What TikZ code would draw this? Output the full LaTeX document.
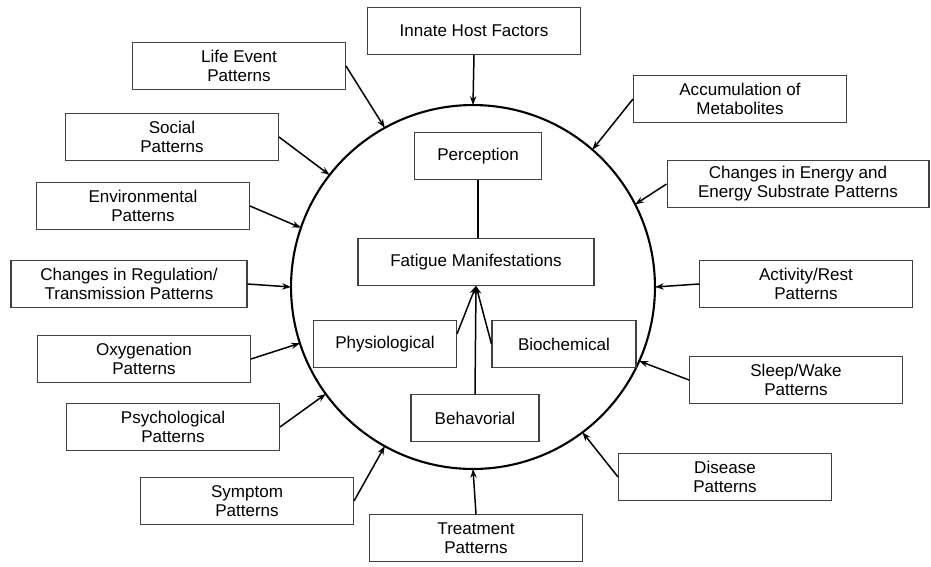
\documentclass[tikz,border=0pt]{standalone}
\usepackage{fontspec}
\setmainfont{Liberation Sans}
\usepackage{tikz}
\usetikzlibrary{arrows.meta}
\usetikzlibrary{shapes,shapes.geometric}

\tikzset{
  factorbox/.style={draw=black!75, line width=0.6pt, align=center, inner sep=2pt,
    minimum width=4.26cm, minimum height=0.93cm},
  corebox/.style={factorbox, minimum width=#1},
  linkarrow/.style={line width=0.85pt, -{Stealth[length=5pt,width=3.6pt]}},
}

\begin{document}
\begin{tikzpicture}[x=0.02cm, y=-0.02cm,
  every node/.style={font=\fontsize{9.7}{10.8}\selectfont}]
			\useasboundingbox (0,0) rectangle (931,566);

			% the big circle
			\node[circle, draw, line width=1.2pt, minimum size=7.28cm, outer sep=0pt] (ring) at (473,287) {};

			% inside the circle
			\node[corebox=2.54cm] (percep) at (478,156) {Perception};
			\node[corebox=4.72cm] (fatigue) at (476,262) {Fatigue Manifestations};
			\node[corebox=2.86cm] (physio) at (385,344) {Physiological};
			\node[corebox=2.88cm] (biochem) at (564,344) {Biochemical};
			\node[corebox=2.56cm] (behav) at (475,418) {Behavorial};

			\draw[line width=0.85pt] (percep.south) -- (percep.south |- fatigue.north);
			\draw[linkarrow] (physio.8) -- (fatigue.south);
			\draw[linkarrow] (biochem.west) -- (fatigue.south);
			\draw[linkarrow] (behav.north) -- (fatigue.south);

			% factors round the circle, left side
			\node[factorbox] (innate) at (474,31) {Innate Host Factors};
			\node[factorbox] (lifeevent) at (239,66) {Life Event\\Patterns};
			\node[factorbox] (social) at (172,137) {Social\\Patterns};
			\node[factorbox] (environ) at (143,206) {Environmental\\Patterns};
			\node[factorbox, minimum width=4.72cm] (regul) at (129,284) {Changes in Regulation/\\Transmission Patterns};
			\node[factorbox] (oxygen) at (144,359) {Oxygenation\\Patterns};
			\node[factorbox] (psycho) at (173,427) {Psychological\\Patterns};
			\node[factorbox] (symptom) at (247,501) {Symptom\\Patterns};
			\node[factorbox] (treat) at (476,538) {Treatment\\Patterns};

			% right side
			\node[factorbox] (accum) at (740,99) {Accumulation of\\Metabolites};
			\node[factorbox, minimum width=5.24cm] (energy) at (798,184) {Changes in Energy and\\Energy Substrate Patterns};
			\node[factorbox] (activity) at (806,284) {Activity/Rest\\Patterns};
			\node[factorbox] (sleep) at (796,380) {Sleep/Wake\\Patterns};
			\node[factorbox] (disease) at (725,477) {Disease\\Patterns};

			\draw[linkarrow] (innate.south) -- (ring.90);
			\draw[linkarrow] (lifeevent.east) -- (ring.119);
			\draw[linkarrow] (social.east) -- (ring.142);
			\draw[linkarrow] (environ.east) -- (ring.161);
			\draw[linkarrow] (regul.east) -- (ring.180);
			\draw[linkarrow] (oxygen.east) -- (ring.198);
			\draw[linkarrow] (psycho.east) -- (ring.216);
			\draw[linkarrow] (symptom.east) -- (ring.241);
			\draw[linkarrow] (treat.north) -- (ring.270);
			\draw[linkarrow] (disease.west) -- (ring.307);
			\draw[linkarrow] (sleep.west) -- (ring.336);
			\draw[linkarrow] (activity.west) -- (ring.0);
			\draw[linkarrow] (energy.west) -- (ring.27);
			\draw[linkarrow] (accum.west) -- (ring.49);
		\end{tikzpicture}
\end{document}
